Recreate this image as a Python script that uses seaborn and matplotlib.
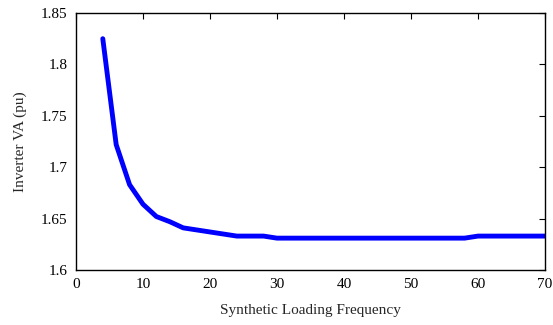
import matplotlib
matplotlib.use("Agg")
import matplotlib.pyplot as plt
import seaborn as sns
import pandas as pd
from matplotlib.ticker import FuncFormatter

freq = [4, 6, 8, 10, 12, 14, 16, 18, 20, 22, 24, 26, 28, 30, 32, 34, 36, 38, 40,
        42, 44, 46, 48, 50, 52, 54, 56, 58, 60, 62, 64, 66, 68, 70]
va = [1.825, 1.722, 1.683, 1.664, 1.652, 1.647, 1.641, 1.639, 1.637, 1.635, 1.633,
      1.633, 1.633, 1.631, 1.631, 1.631, 1.631, 1.631, 1.631, 1.631, 1.631, 1.631,
      1.631, 1.631, 1.631, 1.631, 1.631, 1.631, 1.633, 1.633, 1.633, 1.633, 1.633, 1.633]
xticks = [0, 10, 20, 30, 40, 50, 60, 70]
yticks = [1.6, 1.65, 1.7, 1.75, 1.8, 1.85]

sns.set_style("white")
plt.rcParams['font.family'] = ['Liberation Serif', 'DejaVu Serif']

df = pd.DataFrame({"freq": freq, "va": va})
fig = plt.figure(figsize=(5.53, 3.25), dpi=100)
ax = fig.add_axes([0.1374, 0.1692, 0.8481, 0.7908])
sns.lineplot(data=df, x="freq", y="va", ax=ax, color="#0000ff", linewidth=3.5)
ax.set_xlim(0, 70)
ax.set_ylim(1.6, 1.85)
ax.set_xticks(xticks)
ax.set_yticks(yticks)
ax.yaxis.set_major_formatter(FuncFormatter(lambda v, p: f"{v:g}"))
ax.tick_params(direction="in", top=True, right=True, length=4, width=0.8,
               labelsize=11, colors="black", pad=6)
for s in ax.spines.values():
    s.set_color("black")
    s.set_linewidth(1.0)
ax.set_xlabel("Synthetic Loading Frequency", fontsize=11, labelpad=9)
ax.set_ylabel("Inverter VA (pu)", fontsize=11, labelpad=10)
fig.savefig("out.png", dpi=100)
